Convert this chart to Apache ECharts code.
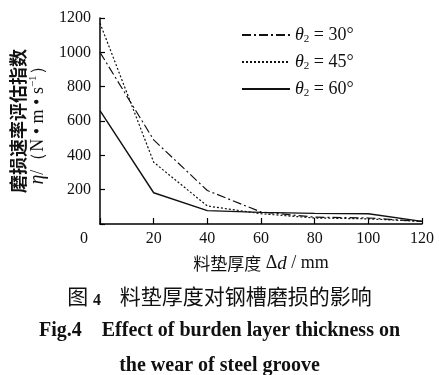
<!DOCTYPE html>
<html><head><meta charset="utf-8">
<script src="https://cdn.jsdelivr.net/npm/echarts@6/dist/echarts.min.js"></script>
<style>html,body{margin:0;padding:0;background:#fff}#c{width:439px;height:375px}</style>
</head><body><div id="c"></div>
<script>
const thickness = [0, 20, 40, 60, 80, 100, 120];
const seriesNames = ['θ2=30°', 'θ2=45°', 'θ2=60°'];
const eta30 = [1000, 490, 195, 70, 40, 35, 15];
const eta45 = [1170, 360, 105, 60, 35, 30, 15];
const eta60 = [660, 182, 78, 68, 62, 60, 15];
const xTicks = [0, 20, 40, 60, 80, 100, 120];
const yTicks = [200, 400, 600, 800, 1000, 1200];

const serif = '"Liberation Serif","DejaVu Serif",serif';
const cjk = '"Noto Sans CJK SC",sans-serif';
const pairs = arr => thickness.map((x, i) => [x, arr[i]]);
const dashes = [[9, 3, 2, 3], [2, 2], 'solid'];
const values = [eta30, eta45, eta60];

const chart = echarts.init(document.getElementById('c'));
chart.setOption({
  animation: false,
  backgroundColor: '#fff',
  grid: {left: 96, right: 17, top: 18, bottom: 151, containLabel: false},
  legend: {
    orient: 'vertical', left: 236, top: 21, itemWidth: 48, itemHeight: 14, itemGap: 8.5,
    data: seriesNames,
    itemStyle: {opacity: 0},
    formatter: n => '{i|θ}{s|2}{n| = ' + n.slice(3) + '}',
    textStyle: {color: '#111', fontFamily: serif, fontSize: 18,
      rich: {
        i: {fontStyle: 'italic', fontFamily: serif, fontSize: 18, color: '#111'},
        s: {fontFamily: serif, fontSize: 11, verticalAlign: 'bottom', padding: [8, 0, 0, 0], color: '#111'},
        n: {fontFamily: serif, fontSize: 18, color: '#111'}
      }}
  },
  xAxis: {
    type: 'value', min: 0, max: 120, interval: 20,
    axisLine: {lineStyle: {color: '#000', width: 1.5}},
    axisTick: {inside: true, length: 6, lineStyle: {color: '#000', width: 1.2}},
    splitLine: {show: false},
    axisLabel: {
      margin: 7, color: '#111', fontFamily: serif, fontSize: 16,
      formatter: v => xTicks.indexOf(v) < 0 ? '' : (v === 0 ? '{z|0}' : String(v)),
      rich: {z: {fontFamily: serif, fontSize: 16, color: '#111', padding: [0, 32, 0, 0]}}
    },
    name: '料垫厚度{d| Δ}{it|d}{d| / mm}', nameLocation: 'middle', nameGap: 30,
    nameTextStyle: {fontFamily: cjk, fontSize: 17, color: '#111',
      rich: {d: {fontFamily: serif, fontSize: 18, color: '#111'},
             it: {fontFamily: serif, fontStyle: 'italic', fontSize: 19, color: '#111'}}}
  },
  yAxis: {
    type: 'value', min: 0, max: 1200, interval: 200,
    axisLine: {show: true, lineStyle: {color: '#000', width: 1.5}},
    axisTick: {show: true, inside: true, length: 5, lineStyle: {color: '#000', width: 1.2}},
    splitLine: {show: false},
    axisLabel: {
      margin: 9, color: '#111', fontFamily: serif, fontSize: 16,
      formatter: v => yTicks.indexOf(v) < 0 ? '' : String(v)
    },
    name: '磨损速率评估指数\n{e|η}{p|/（N • m • s}{sup|−1}{p|）}', nameLocation: 'middle', nameRotate: 90, nameGap: 52,
    nameTextStyle: {fontFamily: cjk, fontSize: 18, fontWeight: 'bold', color: '#111', lineHeight: 20,
      rich: {
        e: {fontFamily: serif, fontStyle: 'italic', fontWeight: 'normal', fontSize: 20, color: '#111'},
        p: {fontFamily: serif, fontWeight: 'normal', fontSize: 18, color: '#111'},
        sup: {fontFamily: serif, fontWeight: 'normal', fontSize: 11, verticalAlign: 'top', padding: [0, 0, 8, 0], color: '#111'}
      }}
  },
  title: [
    {text: '图 {n|4}    料垫厚度对钢槽磨损的影响', left: 'center', top: 278,
      textStyle: {fontFamily: cjk, fontSize: 21, fontWeight: 'normal', color: '#111',
        rich: {n: {fontFamily: serif, fontSize: 16, fontWeight: 'bold', padding: [10, 0, 0, 0], color: '#111'}}}},
    {text: 'Fig.4    Effect of burden layer thickness on', left: 'center', top: 316,
      textStyle: {fontFamily: serif, fontSize: 20, fontWeight: 'bold', color: '#111'}},
    {text: 'the wear of steel groove', left: 'center', top: 351,
      textStyle: {fontFamily: serif, fontSize: 20, fontWeight: 'bold', color: '#111'}}
  ],
  series: seriesNames.map((n, i) => ({
    name: n, type: 'line', data: pairs(values[i]), symbol: 'none',
    lineStyle: {color: '#111', width: i === 2 ? 1.4 : 1.2, type: dashes[i]},
    itemStyle: {color: '#111'}
  }))
});
</script>
</body></html>
